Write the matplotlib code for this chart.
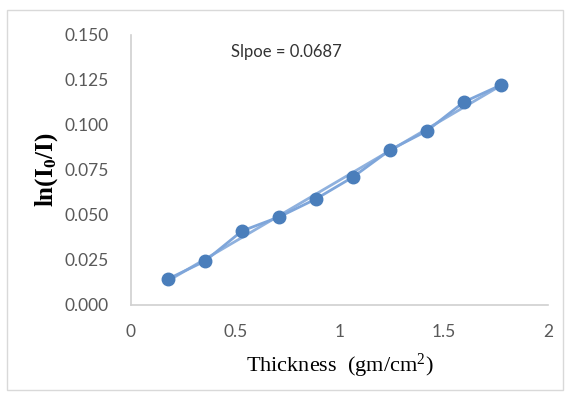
import numpy as np
import matplotlib.pyplot as plt
from matplotlib.patches import Rectangle

# data
thickness = [0.177, 0.355, 0.532, 0.710, 0.887, 1.065, 1.242, 1.419, 1.597, 1.775]
ln_ratio = [0.0144, 0.0244, 0.0411, 0.0489, 0.0589, 0.0711, 0.0861, 0.0967, 0.1128, 0.1222]
slope_label = 'Slpoe = 0.0687'
x_ticks = [0, 0.5, 1, 1.5, 2]
x_tick_labels = ['0', '0.5', '1', '1.5', '2']
y_ticks = [0.000, 0.025, 0.050, 0.075, 0.100, 0.125, 0.150]

plt.rcParams['font.family'] = ['Lato', 'DejaVu Sans']
plt.rcParams['mathtext.fontset'] = 'custom'
plt.rcParams['mathtext.rm'] = 'Liberation Serif'
plt.rcParams['mathtext.it'] = 'Liberation Serif'
plt.rcParams['mathtext.bf'] = 'Liberation Serif:bold'

fig = plt.figure(figsize=(5.69, 3.94), dpi=100)
fig.patches.append(Rectangle((0.012, 0.01), 0.978, 0.965, transform=fig.transFigure,
                             fill=False, edgecolor='#d9d9d9', linewidth=1))
ax = fig.add_axes([0.2302, 0.2259, 0.7328, 0.6853])

# trendline
m, b = np.polyfit(thickness, ln_ratio, 1)
xs = np.array([thickness[0], thickness[-1]])
ax.plot(xs, m * xs + b, color='#8fb1de', linewidth=2, zorder=2)
ax.plot(thickness, ln_ratio, color='#7fa6da', linewidth=2, marker='o',
        markersize=9, markerfacecolor='#4a7ebb', markeredgecolor='#4a7ebb', zorder=3)

ax.set_xlim(0, 2)
ax.set_ylim(0, 0.150)
ax.set_xticks(x_ticks)
ax.set_xticklabels(x_tick_labels)
ax.set_yticks(y_ticks)
ax.set_yticklabels([f'{v:.3f}' for v in y_ticks])
ax.tick_params(length=0, labelsize=12.5, labelcolor='#595959')
ax.tick_params(axis='x', pad=14)
ax.tick_params(axis='y', pad=16)

for s in ['top', 'right']:
    ax.spines[s].set_visible(False)
for s in ['left', 'bottom']:
    ax.spines[s].set_color('#d0d0d0')
    ax.spines[s].set_linewidth(1.2)

ax.text(0.24, 0.92, slope_label, transform=ax.transAxes, fontsize=12, color='#333333')

ax.set_xlabel('Thickness  (gm/cm$^2$)', family='Liberation Serif', fontsize=16,
              color='black', labelpad=8)
ax.set_ylabel(r'$\mathbf{ln(I_0/I)}$', fontsize=18, color='black', labelpad=3)

fig.savefig('out.png', dpi=100)
